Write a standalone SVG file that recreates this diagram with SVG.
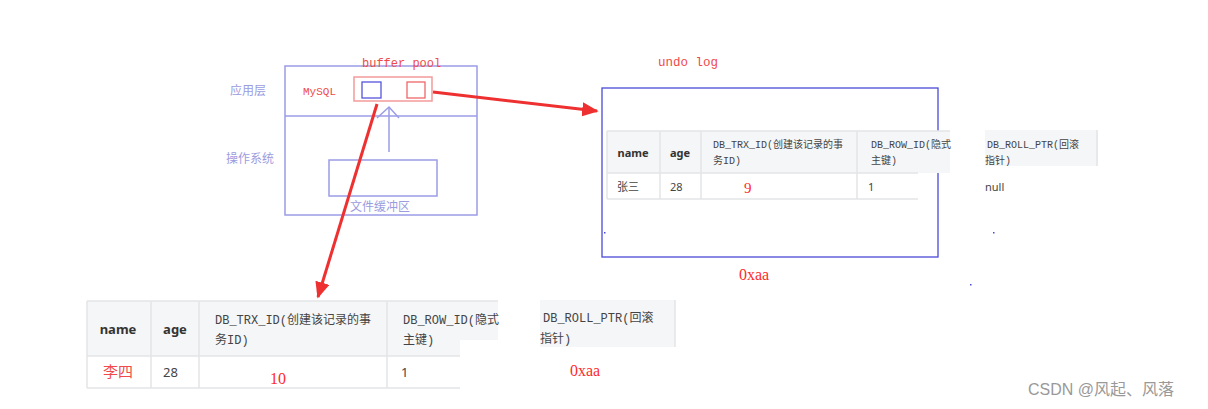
<svg xmlns="http://www.w3.org/2000/svg" width="1208" height="409" viewBox="0 0 1208 409">
<defs>
<style>
.lav{fill:none;stroke:#9c9ce8;stroke-width:1.5}
.lavt{fill:#9c9ce0;font-family:"Noto Sans CJK SC","Liberation Serif",serif;font-size:12px}
.redt{fill:#f04a4a;font-family:"Liberation Mono",monospace}
.num{fill:#ff2a2a;font-family:"Liberation Serif",serif}
.hdr{fill:#f5f6f7}
.grid{stroke:#e3e5e8;stroke-width:1.5;fill:none}
.th{fill:#333;font-family:"Noto Sans","Liberation Sans",sans-serif;font-weight:bold}
.mono{fill:#444;font-family:"Liberation Mono","Noto Sans CJK SC",monospace}
.td{fill:#444;font-family:"Noto Sans","Liberation Sans","Noto Sans CJK SC",sans-serif}
.arrow{stroke:#ee3030;stroke-width:3;fill:none}
</style>
<marker id="ah" viewBox="0 0 10 10" refX="9" refY="5" markerWidth="5.5" markerHeight="4.8" orient="auto" markerUnits="strokeWidth" preserveAspectRatio="none">
<path d="M0,0 L10,5 L0,10 z" fill="#ee3030"/>
</marker>
</defs>
<rect width="1208" height="409" fill="#ffffff"/>

<g id="os-diagram">
<rect class="lav" x="285" y="66" width="192" height="149"/>
<line class="lav" x1="285" y1="116" x2="477" y2="116"/>
<text class="lavt" x="230" y="95">应用层</text>
<text class="lavt" x="226" y="163">操作系统</text>
<text class="redt" x="303" y="95" font-size="11">MySQL</text>
<text class="redt" x="362" y="67" font-size="12">buffer pool</text>
</g>

<g id="buffer-pool">
<rect x="354" y="77" width="78" height="24" fill="none" stroke="#f49a9a" stroke-width="1.5"/>
<rect x="362" y="82" width="19" height="16" fill="none" stroke="#5555dd" stroke-width="1.3"/>
<rect x="407" y="82" width="18" height="16" fill="none" stroke="#ee6666" stroke-width="1.3"/>
</g>

<g id="file-buffer">
<rect class="lav" x="329" y="160" width="108" height="36"/>
<text class="lavt" x="350" y="211">文件缓冲区</text>
</g>

<g id="undo-log">
<text class="redt" x="658" y="66" font-size="12.5">undo log</text>
<rect x="602" y="88" width="336" height="169" fill="none" stroke="#4a4ad8" stroke-width="1.3"/>
<text class="num" x="739" y="280" font-size="16">0xaa</text>
</g>

<g id="table-top">
<rect class="hdr" x="607" y="131" width="343" height="42"/>
<rect class="hdr" x="985" y="130" width="113" height="36"/>
<path class="grid" d="M607,131 H950 M607,173 H918 M607,199 H918 M607,131 V199 M660,131 V199 M701,131 V199 M857,131 V199 M1097,130 V166"/>
<text class="th" x="633" y="157" font-size="11" text-anchor="middle">name</text>
<text class="th" x="680" y="157" font-size="11" text-anchor="middle">age</text>
<text class="mono" x="713" y="148" font-size="10">DB_TRX_ID(创建该记录的事</text>
<text class="mono" x="713" y="164" font-size="10">务ID)</text>
<text class="mono" x="871" y="148" font-size="10">DB_ROW_ID(隐式</text>
<text class="mono" x="871" y="164" font-size="10">主键)</text>
<text class="mono" x="987" y="148" font-size="10">DB_ROLL_PTR(回滚</text>
<text class="mono" x="985" y="164" font-size="10">指针)</text>
<text class="td" x="617" y="191" font-size="11">张三</text>
<text class="td" x="670" y="191" font-size="11">28</text>
<text class="num" x="744" y="193" font-size="15">9</text>
<text class="td" x="868" y="191" font-size="11">1</text>
<text class="td" x="985" y="191" font-size="11" fill="#2a4060">null</text>
</g>

<g id="table-bottom">
<rect class="hdr" x="87" y="301" width="411" height="55"/>
<rect class="hdr" x="540" y="300" width="135" height="47"/>
<rect x="460" y="340" width="40" height="16" fill="#ffffff"/>
<path class="grid" d="M87,301 H498 M87,356 H460 M87,388 H460 M87,301 V388 M151,301 V388 M199,301 V388 M387,301 V388 M675,300 V347"/>
<text class="th" x="118" y="334" font-size="13" text-anchor="middle">name</text>
<text class="th" x="175" y="334" font-size="13" text-anchor="middle">age</text>
<text class="mono" x="215" y="324" font-size="12">DB_TRX_ID(创建该记录的事</text>
<text class="mono" x="215" y="344" font-size="12">务ID)</text>
<text class="mono" x="403" y="324" font-size="12">DB_ROW_ID(隐式</text>
<text class="mono" x="403" y="344" font-size="12">主键)</text>
<text class="mono" x="543" y="322" font-size="12">DB_ROLL_PTR(回滚</text>
<text class="mono" x="540" y="343" font-size="12">指针)</text>
<text x="103" y="377" font-size="15" fill="#f04a4a" font-family="'Noto Sans CJK SC',serif">李四</text>
<text class="td" x="163" y="377" font-size="13">28</text>
<text class="num" x="270" y="384" font-size="16">10</text>
<text class="td" x="401" y="377" font-size="13">1</text>
<text class="num" x="570" y="376" font-size="16">0xaa</text>
</g>

<g id="connectors">
<line class="lav" x1="389" y1="152" x2="389" y2="108"/>
<polyline class="lav" points="377,118 389,107 399,118"/>
<line class="arrow" x1="433" y1="92" x2="597" y2="111" marker-end="url(#ah)"/>
<line class="arrow" x1="377" y1="104" x2="318" y2="297" marker-end="url(#ah)"/>
</g>

<g id="specks" fill="#4a4ad8">
<rect x="604" y="232" width="1.5" height="1.5"/>
<rect x="993" y="232" width="1.5" height="1.5"/>
<rect x="970" y="284" width="1.5" height="1.5"/>
</g>

<text x="1028" y="395" font-size="16" fill="#999" font-family="'Liberation Sans','Noto Sans CJK SC',sans-serif">CSDN @风起、风落</text>
</svg>
